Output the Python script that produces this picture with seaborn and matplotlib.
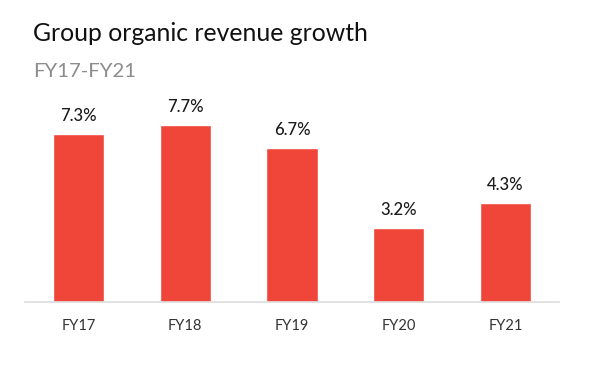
import matplotlib
matplotlib.use("Agg")
import matplotlib.pyplot as plt
import seaborn as sns
import pandas as pd

# Data
years = ["FY17", "FY18", "FY19", "FY20", "FY21"]
growth = [7.3, 7.7, 6.7, 3.2, 4.3]

df = pd.DataFrame({"Year": years, "Growth": growth})

sns.set_style("white")
plt.rcParams["font.family"] = ["Lato", "DejaVu Sans"]

fig = plt.figure(figsize=(6.04, 3.65), dpi=100)
ax = fig.add_axes([25 / 604, 1 - 302 / 365, 534 / 604, 207 / 365])

sns.barplot(data=df, x="Year", y="Growth", color="#F04539", width=0.48,
            saturation=1, ax=ax)

ax.set_ylim(0, 9)
ax.set_xlim(-0.5, 4.5)
for i, v in enumerate(growth):
    ax.text(i, v + 0.45, f"{v}%", ha="center", va="bottom",
            fontsize=12, color="#1a1a1a", fontweight="medium")

for s in ["top", "right", "left"]:
    ax.spines[s].set_visible(False)
ax.spines["bottom"].set_color("#dddddd")
ax.spines["bottom"].set_linewidth(1.2)
ax.set_yticks([])
ax.set_xlabel("")
ax.set_ylabel("")
ax.tick_params(axis="x", length=0, pad=12, labelsize=10.5, labelcolor="#333333")

fig.text(33 / 604, 1 - 41 / 365, "Group organic revenue growth", fontsize=17.8,
         color="#111111", va="baseline")
fig.text(33 / 604, 1 - 77 / 365, "FY17-FY21", fontsize=14.6,
         color="#8c8c8c", va="baseline")

fig.savefig("out.png", dpi=100)
